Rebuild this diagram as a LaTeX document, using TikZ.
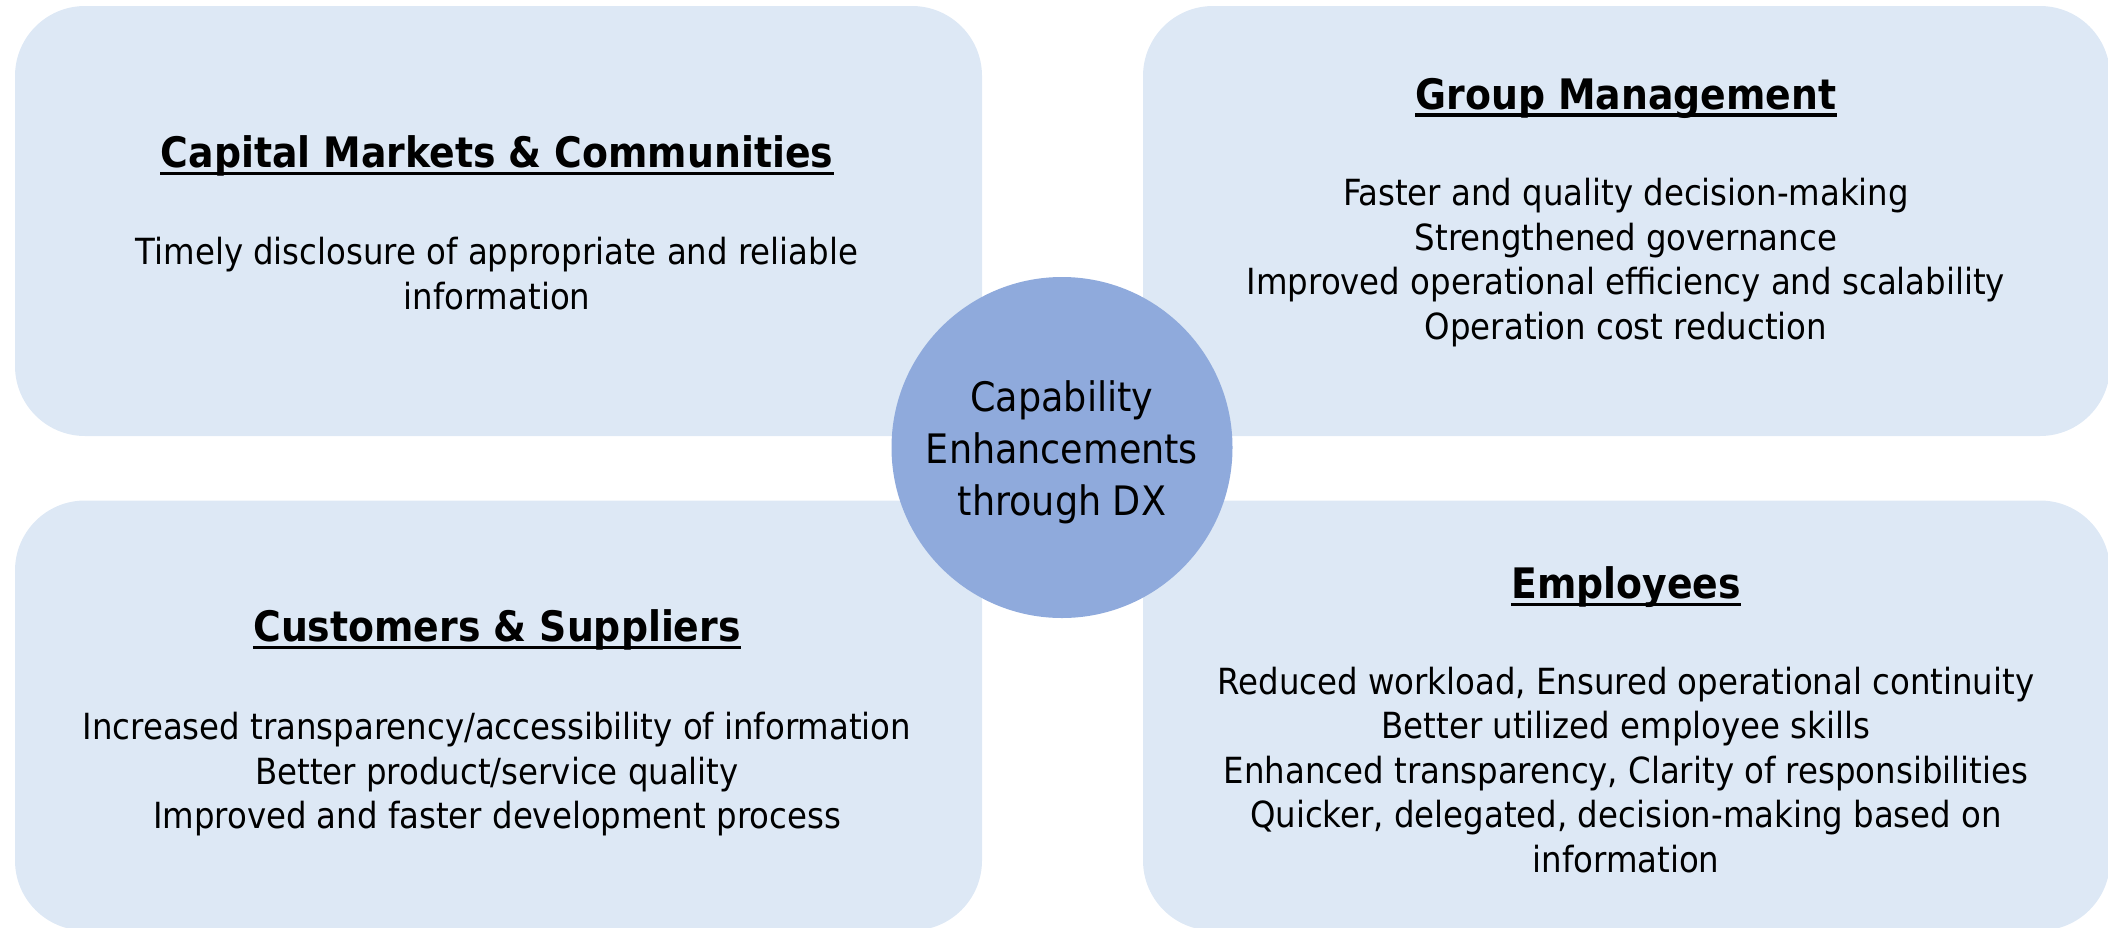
\documentclass[tikz,border=0pt]{standalone}
\usepackage{fontspec}
\setmainfont{DejaVu Sans Condensed}
\definecolor{boxfill}{HTML}{DDE8F5}
\definecolor{circfill}{HTML}{8FAADC}
\begin{document}
\begin{tikzpicture}[x=0.5pt,y=-0.5pt,
  panel/.style={fill=boxfill, draw=none, rounded corners=35pt, minimum width=483.5pt, minimum height=215pt, inner sep=0pt},
  ttl/.style={font=\fontsize{21}{25}\selectfont\bfseries, align=center, inner sep=0pt},
  body/.style={font=\fontsize{18}{22.25}\selectfont, align=center, inner sep=0pt},
  uline/.style={line width=1.8pt},
  hub/.style={circle, fill=circfill, draw=none, minimum size=170.5pt, inner sep=0pt},
  hubtext/.style={align=center, inner sep=0pt, font=\fontsize{20.3}{26}\selectfont}]
\useasboundingbox (0,0) rectangle (2108,927);
\node[panel] (tl) at (498.5,221) {};
\node[panel] (tr) at (1626.5,221) {};
\node[panel] (bl) at (498.5,715.5) {};
\node[panel] (br) at (1626.5,715.5) {};
\node[hub] (hub) at (1062,447.5) {};
\node[hubtext] (hubt) at (1062,452) {Capability\\Enhancements\\through DX};
\node[ttl] (tlt) at (497,156) {Capital Markets \& Communities};
\node[body] (tlb) at (497,273.5) {Timely disclosure of appropriate and reliable\\information};
\node[ttl] (trt) at (1626,98) {Group Management};
\node[body] (trb) at (1626,262.5) {Faster and quality decision-making\\Strengthened governance\\Improved operational efficiency and scalability\\Operation cost reduction};
\node[ttl] (blt) at (497,630) {Customers \& Suppliers};
\node[body] (blb) at (497,774.5) {Increased transparency/accessibility of information\\Better product/service quality\\Improved and faster development process};
\node[ttl] (brt) at (1626,587) {Employees};
\node[body] (brb) at (1626,770) {Reduced workload, Ensured operational continuity\\Better utilized employee skills\\Enhanced transparency, Clarity of responsibilities\\Quicker, delegated, decision-making based on\\information};
\foreach \n in {tlt,trt,blt,brt}
  \draw[uline] ([yshift=-3pt]\n.base west) -- ([yshift=-3pt]\n.base east);
\end{tikzpicture}
\end{document}
